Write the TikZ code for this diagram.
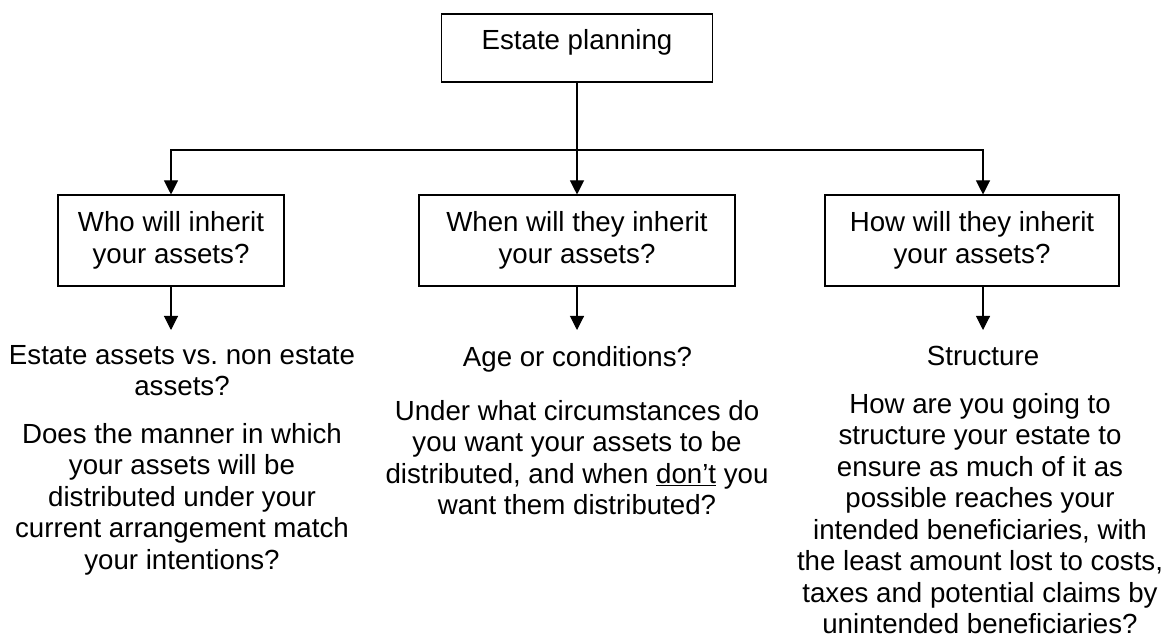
\documentclass[tikz,border=0pt]{standalone}
\usepackage{fontspec}
\setmainfont{Liberation Sans}
\usetikzlibrary{arrows.meta}
\frenchspacing

\begin{document}
\begin{tikzpicture}[
    x=0.75pt, y=-0.75pt,
    font=\fontsize{20.75}{23.6}\selectfont,
    box/.style={rectangle, draw, line width=0.8pt, align=center, inner sep=0pt},
    note/.style={align=center, inner sep=0pt, anchor=north},
    link/.style={line width=0.8pt, -{Triangle[width=10.5pt,length=10.5pt]}},
]
    \useasboundingbox (0,0) rectangle (1166,634);

    % Top box
    \node[box, minimum width=203.25pt, text height=27pt, text depth=24pt] (plan) at (577,48) {Estate planning};

    % Questions
    \node[box, minimum width=169.5pt, minimum height=68.25pt] (who) at (171,240.5) {Who will inherit\\your assets?};
    \node[box, minimum width=237pt, minimum height=68.25pt] (when) at (577,240.5) {When will they inherit\\your assets?};
    \node[box, minimum width=220.5pt, minimum height=68.25pt] (how) at (972,240.5) {How will they inherit\\your assets?};

    % Connectors
    \coordinate (split) at (577,150);
    \coordinate (whoend) at (171,330);
    \coordinate (whenend) at (577,330);
    \coordinate (howend) at (983,330);
    \draw[line width=0.8pt] (plan) -- (split);
    \draw[link] (split) -| (who);
    \draw[link] (split) -- (when);
    \draw[link] (split) -| (how.north -| howend);
    \draw[link] (who) -- (whoend);
    \draw[link] (when) -- (whenend);
    \draw[link] (how.south -| howend) -- (howend);

    % Answers
    \node[note] (whohead) at (182,345) {Estate assets vs. non estate\\assets?};
    \node[note] (whotext) at (182,423) {Does the manner in which\\your assets will be\\distributed under your\\current arrangement match\\your intentions?};
    \node[inner sep=0pt, anchor=base] (whenhead) at (577.5,366) {Age or conditions?};
    \node[note] (whentext) at (577,400) {Under what circumstances do\\you want your assets to be\\distributed, and when \underline{don’t} you\\want them distributed?};
    \node[inner sep=0pt, anchor=base] (howhead) at (983,365) {Structure};
    \node[note] (howtext) at (980,393) {How are you going to\\structure your estate to\\ensure as much of it as\\possible reaches your\\intended beneficiaries, with\\the least amount lost to costs,\\taxes and potential claims by\\unintended beneficiaries?};
\end{tikzpicture}
\end{document}
